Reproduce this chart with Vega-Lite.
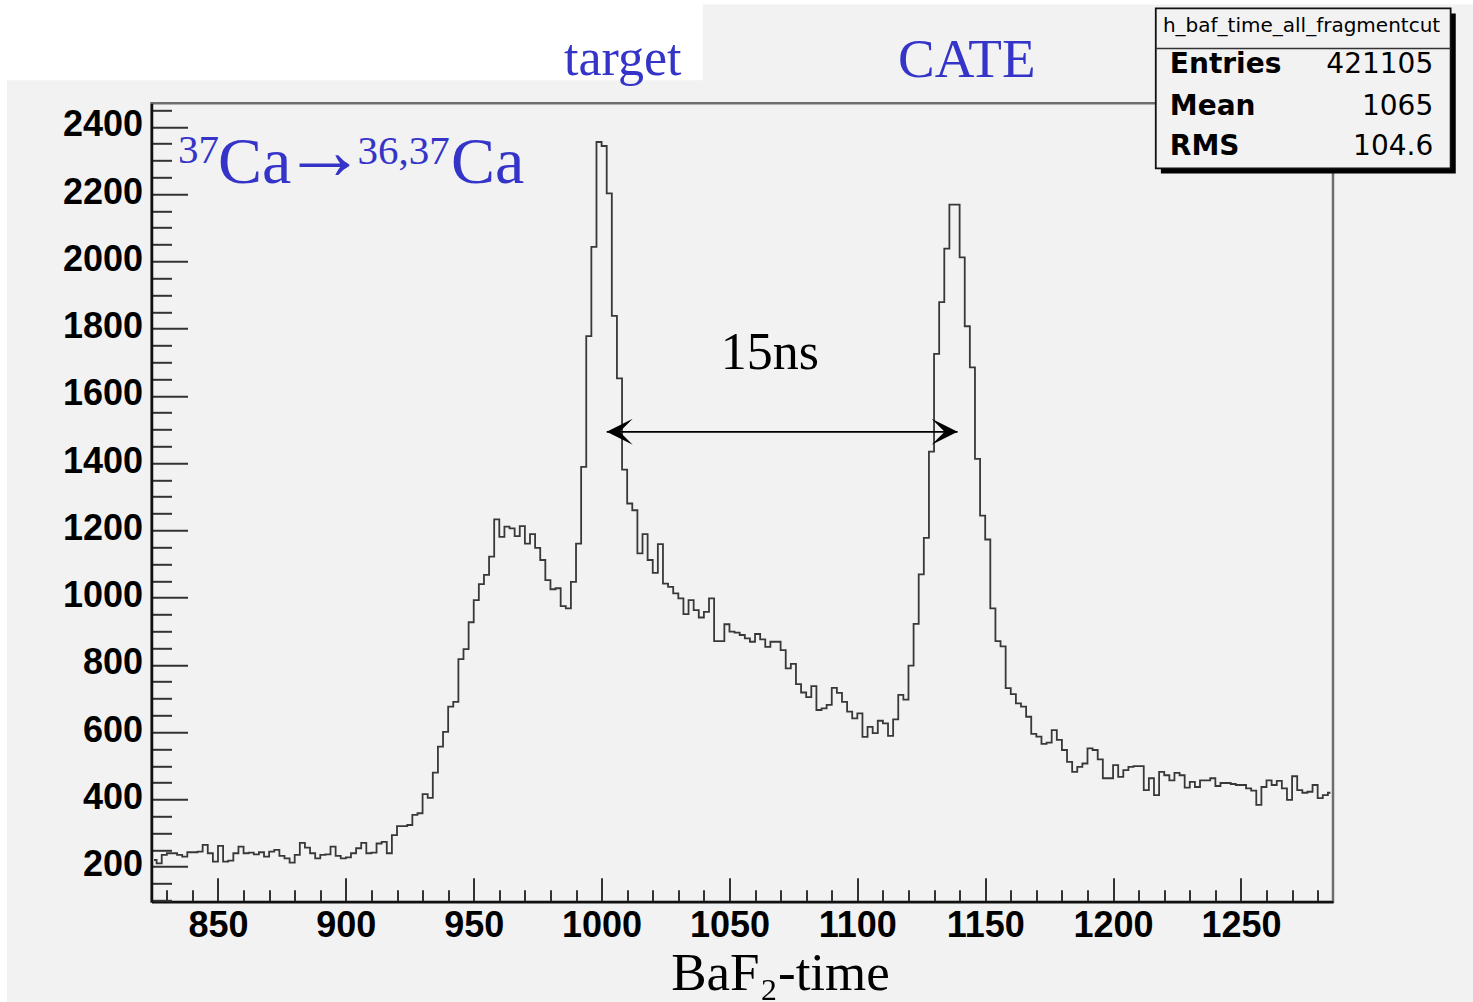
{
  "$schema": "https://vega.github.io/schema/vega-lite/v6.json",
  "width": 1181.5,
  "height": 798.4,
  "autosize": {"type": "none"},
  "padding": {"left": 151.5, "top": 103.3, "right": 140, "bottom": 100.3},
  "background": "#f2f2f2",
  "config": {"view": {"stroke": "#6e6e6e", "strokeWidth": 2.5, "fill": "#f2f2f2"}},
  "datasets": {
    "hist": [
      {"t":825,"n":220},{"t":827,"n":210},{"t":829,"n":235},{"t":831,"n":240},{"t":833,"n":240},{"t":835,"n":235},{"t":837,"n":230},{"t":839,"n":243},{"t":841,"n":243},{"t":843,"n":245},
      {"t":845,"n":265},{"t":847,"n":240},{"t":849,"n":215},{"t":851,"n":262},{"t":853,"n":215},{"t":855,"n":218},{"t":857,"n":240},{"t":859,"n":260},{"t":861,"n":240},{"t":863,"n":242},
      {"t":865,"n":237},{"t":867,"n":243},{"t":869,"n":230},{"t":871,"n":245},{"t":873,"n":250},{"t":875,"n":232},{"t":877,"n":225},{"t":879,"n":212},{"t":881,"n":235},{"t":883,"n":271},
      {"t":885,"n":257},{"t":887,"n":240},{"t":889,"n":225},{"t":891,"n":235},{"t":893,"n":237},{"t":895,"n":260},{"t":897,"n":232},{"t":899,"n":225},{"t":901,"n":228},{"t":903,"n":240},
      {"t":905,"n":255},{"t":907,"n":271},{"t":909,"n":240},{"t":911,"n":242},{"t":913,"n":269},{"t":915,"n":274},{"t":917,"n":240},{"t":919,"n":294},{"t":921,"n":321},{"t":923,"n":321},
      {"t":925,"n":324},{"t":927,"n":354},{"t":929,"n":359},{"t":931,"n":416},{"t":933,"n":405},{"t":935,"n":480},{"t":937,"n":557},{"t":939,"n":601},{"t":941,"n":676},{"t":943,"n":690},
      {"t":945,"n":817},{"t":947,"n":847},{"t":949,"n":927},{"t":951,"n":993},{"t":953,"n":1040},{"t":955,"n":1068},{"t":957,"n":1122},{"t":959,"n":1233},{"t":961,"n":1181},{"t":963,"n":1211},
      {"t":965,"n":1206},{"t":967,"n":1183},{"t":969,"n":1213},{"t":971,"n":1161},{"t":973,"n":1189},{"t":975,"n":1148},{"t":977,"n":1112},{"t":979,"n":1052},{"t":981,"n":1025},{"t":983,"n":1028},
      {"t":985,"n":975},{"t":987,"n":968},{"t":989,"n":1047},{"t":991,"n":1161},{"t":993,"n":1389},{"t":995,"n":1778},{"t":997,"n":2043},{"t":999,"n":2355},{"t":1001,"n":2343},{"t":1003,"n":2202},
      {"t":1005,"n":1838},{"t":1007,"n":1652},{"t":1009,"n":1381},{"t":1011,"n":1280},{"t":1013,"n":1260},{"t":1015,"n":1132},{"t":1017,"n":1189},{"t":1019,"n":1112},{"t":1021,"n":1074},{"t":1023,"n":1159},
      {"t":1025,"n":1042},{"t":1027,"n":1032},{"t":1029,"n":1013},{"t":1031,"n":998},{"t":1033,"n":951},{"t":1035,"n":993},{"t":1037,"n":963},{"t":1039,"n":941},{"t":1041,"n":958},{"t":1043,"n":998},
      {"t":1045,"n":871},{"t":1047,"n":871},{"t":1049,"n":921},{"t":1051,"n":899},{"t":1053,"n":896},{"t":1055,"n":889},{"t":1057,"n":879},{"t":1059,"n":869},{"t":1061,"n":892},{"t":1063,"n":876},
      {"t":1065,"n":854},{"t":1067,"n":869},{"t":1069,"n":869},{"t":1071,"n":844},{"t":1073,"n":790},{"t":1075,"n":803},{"t":1077,"n":743},{"t":1079,"n":718},{"t":1081,"n":704},{"t":1083,"n":737},
      {"t":1085,"n":666},{"t":1087,"n":671},{"t":1089,"n":681},{"t":1091,"n":732},{"t":1093,"n":717},{"t":1095,"n":690},{"t":1097,"n":661},{"t":1099,"n":641},{"t":1101,"n":656},{"t":1103,"n":586},
      {"t":1105,"n":616},{"t":1107,"n":597},{"t":1109,"n":634},{"t":1111,"n":626},{"t":1113,"n":589},{"t":1115,"n":638},{"t":1117,"n":711},{"t":1119,"n":697},{"t":1121,"n":798},{"t":1123,"n":922},
      {"t":1125,"n":1069},{"t":1127,"n":1178},{"t":1129,"n":1434},{"t":1131,"n":1725},{"t":1133,"n":1879},{"t":1135,"n":2038},{"t":1137,"n":2169},{"t":1139,"n":2169},{"t":1141,"n":2012},{"t":1143,"n":1807},
      {"t":1145,"n":1685},{"t":1147,"n":1413},{"t":1149,"n":1244},{"t":1151,"n":1173},{"t":1153,"n":968},{"t":1155,"n":871},{"t":1157,"n":855},{"t":1159,"n":731},{"t":1161,"n":713},{"t":1163,"n":686},
      {"t":1165,"n":676},{"t":1167,"n":646},{"t":1169,"n":595},{"t":1171,"n":587},{"t":1173,"n":565},{"t":1175,"n":569},{"t":1177,"n":606},{"t":1179,"n":577},{"t":1181,"n":547},{"t":1183,"n":512},
      {"t":1185,"n":482},{"t":1187,"n":497},{"t":1189,"n":507},{"t":1191,"n":552},{"t":1193,"n":547},{"t":1195,"n":519},{"t":1197,"n":463},{"t":1199,"n":463},{"t":1201,"n":502},{"t":1203,"n":467},
      {"t":1205,"n":487},{"t":1207,"n":497},{"t":1209,"n":499},{"t":1211,"n":499},{"t":1213,"n":428},{"t":1215,"n":463},{"t":1217,"n":413},{"t":1219,"n":482},{"t":1221,"n":472},{"t":1223,"n":457},
      {"t":1225,"n":479},{"t":1227,"n":472},{"t":1229,"n":435},{"t":1231,"n":452},{"t":1233,"n":437},{"t":1235,"n":457},{"t":1237,"n":457},{"t":1239,"n":463},{"t":1241,"n":440},{"t":1243,"n":449},
      {"t":1245,"n":449},{"t":1247,"n":446},{"t":1249,"n":443},{"t":1251,"n":443},{"t":1253,"n":433},{"t":1255,"n":426},{"t":1257,"n":384},{"t":1259,"n":437},{"t":1261,"n":457},{"t":1263,"n":443},
      {"t":1265,"n":455},{"t":1267,"n":433},{"t":1269,"n":399},{"t":1271,"n":469},{"t":1273,"n":428},{"t":1275,"n":420},{"t":1277,"n":423},{"t":1279,"n":443},{"t":1281,"n":404},{"t":1283,"n":413},
      {"t":1285,"n":420}
    ],
    "white": [
      {"x1": 760, "x2": 1039.6, "y1": 2538.8, "y2": 2800},
      {"x1": 760, "x2": 767.5, "y1": -250, "y2": 2800},
      {"x1": 1039.6, "x2": 1345, "y1": 2764, "y2": 2800}
    ],
    "arrow": [{"x1": 1002, "x2": 1139.2, "y": 1493}],
    "tipL": [{"x": 1002, "y": 1493}],
    "tipR": [{"x": 1139.2, "y": 1493}],
    "ns": [{"x": 1065.8, "y": 1681, "label": "15ns"}],
    "big": [{"x": 850, "y": 2233.5, "label": "Ca"}, {"x": 941.1, "y": 2233.5, "label": "Ca"}],
    "rarrow": [{"x": 891.6, "y": 2246.3, "label": "→"}],
    "sup": [{"x": 834.4, "y": 2292, "label": "37"}, {"x": 904.6, "y": 2289, "label": "36,37"}],
    "blue": [{"x": 985.3, "y": 2553.7, "label": "target"}],
    "blue2": [{"x": 1115.9, "y": 2547.8, "label": "CATE"}],
    "shadow": [{"x1": 1218.7, "x2": 1334.0, "y1": 2261.5, "y2": 2737}],
    "box": [{"x1": 1216.7, "x2": 1332.0, "y1": 2276.3, "y2": 2752}],
    "sep": [{"x1": 1216.7, "x2": 1332.0, "y": 2633}],
    "boxtitle": [{"x": 1273.7, "y": 2682.4, "label": "h_baf_time_all_fragmentcut"}],
    "statnames": [{"x": 1222.2, "y": 2558.8, "label": "Entries"}, {"x": 1222.2, "y": 2434.8, "label": "Mean"}, {"x": 1222.2, "y": 2315.9, "label": "RMS"}],
    "statvals": [{"x": 1325.2, "y": 2558.8, "label": "421105"}, {"x": 1325.2, "y": 2434.8, "label": "1065"}, {"x": 1325.2, "y": 2315.9, "label": "104.6"}]
  },
  "layer": [
    {
      "data": {"name": "white"},
      "mark": {"type": "rect", "fill": "#ffffff", "strokeWidth": 0},
      "encoding": {
        "x": {"field": "x1", "type": "quantitative", "scale": {"domain": [824, 1286], "nice": false, "zero": false}},
        "x2": {"field": "x2"},
        "y": {"field": "y1", "type": "quantitative", "scale": {"domain": [96, 2470], "nice": false, "zero": false}},
        "y2": {"field": "y2"}
      }
    },
    {
      "data": {"name": "hist"},
      "mark": {"type": "line", "interpolate": "step", "color": "#383838", "strokeWidth": 1.8},
      "encoding": {
        "x": {
          "field": "t", "type": "quantitative",
          "scale": {"domain": [824, 1286], "nice": false, "zero": false},
          "axis": {
            "title": "BaF₂-time",
            "values": [830,840,850,860,870,880,890,900,910,920,930,940,950,960,970,980,990,1000,1010,1020,1030,1040,1050,1060,1070,1080,1090,1100,1110,1120,1130,1140,1150,1160,1170,1180,1190,1200,1210,1220,1230,1240,1250,1260,1270,1280],
            "tickCount": 200,
            "format": "d",
            "labelExpr": "datum.value % 50 === 0 ? datum.label : ''",
            "tickSize": {"condition": {"test": "datum.value % 50 === 0", "value": -24}, "value": -12},
            "labelPadding": 31,
            "tickColor": "#333333", "tickWidth": 2,
            "domainColor": "#111111", "domainWidth": 2.5,
            "grid": false,
            "labelFont": "Liberation Sans", "labelFontWeight": "bold", "labelFontSize": 36, "labelColor": "#000000",
            "labelOverlap": false, "labelFlush": false,
            "titleFont": "Liberation Serif", "titleFontSize": 53, "titleFontWeight": "normal", "titleColor": "#000000",
            "titleX": 628.5, "titleY": 88, "titleBaseline": "alphabetic", "titleAlign": "center"
          }
        },
        "y": {
          "field": "n", "type": "quantitative",
          "scale": {"domain": [96, 2470], "nice": false, "zero": false},
          "axis": {
            "title": "",
            "values": [100,150,200,250,300,350,400,450,500,550,600,650,700,750,800,850,900,950,1000,1050,1100,1150,1200,1250,1300,1350,1400,1450,1500,1550,1600,1650,1700,1750,1800,1850,1900,1950,2000,2050,2100,2150,2200,2250,2300,2350,2400,2450],
            "tickCount": 200,
            "format": "d",
            "labelExpr": "datum.value % 200 === 0 ? datum.label : ''",
            "tickSize": {"condition": {"test": "datum.value % 200 === 0", "value": -36}, "value": -20},
            "labelPadding": 45,
            "labelOffset": -2,
            "tickColor": "#333333", "tickWidth": 2,
            "domainColor": "#111111", "domainWidth": 2.5,
            "grid": false,
            "labelFont": "Liberation Sans", "labelFontWeight": "bold", "labelFontSize": 36, "labelColor": "#000000",
            "labelOverlap": false, "labelFlush": false
          }
        }
      }
    },
    {
      "data": {"name": "arrow"},
      "mark": {"type": "rule", "color": "#000000", "strokeWidth": 1.6},
      "encoding": {
        "x": {"field": "x1", "type": "quantitative", "scale": {"domain": [824, 1286], "nice": false, "zero": false}},
        "x2": {"field": "x2"},
        "y": {"field": "y", "type": "quantitative", "scale": {"domain": [96, 2470], "nice": false, "zero": false}}
      }
    },
    {
      "data": {"name": "tipL"},
      "mark": {"type": "point", "shape": "M0,0 L2,-1 L1,0 L2,1 Z", "size": 676, "filled": true, "color": "#000000", "opacity": 1, "strokeWidth": 0},
      "encoding": {
        "x": {"field": "x", "type": "quantitative", "scale": {"domain": [824, 1286], "nice": false, "zero": false}},
        "y": {"field": "y", "type": "quantitative", "scale": {"domain": [96, 2470], "nice": false, "zero": false}}
      }
    },
    {
      "data": {"name": "tipR"},
      "mark": {"type": "point", "shape": "M0,0 L-2,-1 L-1,0 L-2,1 Z", "size": 676, "filled": true, "color": "#000000", "opacity": 1, "strokeWidth": 0},
      "encoding": {
        "x": {"field": "x", "type": "quantitative", "scale": {"domain": [824, 1286], "nice": false, "zero": false}},
        "y": {"field": "y", "type": "quantitative", "scale": {"domain": [96, 2470], "nice": false, "zero": false}}
      }
    },
    {
      "data": {"name": "ns"},
      "mark": {"type": "text", "font": "Liberation Serif", "fontSize": 52, "color": "#000000", "align": "center", "baseline": "alphabetic"},
      "encoding": {
        "x": {"field": "x", "type": "quantitative", "scale": {"domain": [824, 1286], "nice": false, "zero": false}},
        "y": {"field": "y", "type": "quantitative", "scale": {"domain": [96, 2470], "nice": false, "zero": false}},
        "text": {"field": "label"}
      }
    },
    {
      "data": {"name": "big"},
      "mark": {"type": "text", "font": "Liberation Serif", "fontSize": 66, "color": "#3434c8", "align": "left", "baseline": "alphabetic"},
      "encoding": {
        "x": {"field": "x", "type": "quantitative", "scale": {"domain": [824, 1286], "nice": false, "zero": false}},
        "y": {"field": "y", "type": "quantitative", "scale": {"domain": [96, 2470], "nice": false, "zero": false}},
        "text": {"field": "label"}
      }
    },
    {
      "data": {"name": "rarrow"},
      "mark": {"type": "text", "font": "Liberation Serif", "fontSize": 84, "color": "#3434c8", "align": "center", "baseline": "alphabetic"},
      "encoding": {
        "x": {"field": "x", "type": "quantitative", "scale": {"domain": [824, 1286], "nice": false, "zero": false}},
        "y": {"field": "y", "type": "quantitative", "scale": {"domain": [96, 2470], "nice": false, "zero": false}},
        "text": {"field": "label"}
      }
    },
    {
      "data": {"name": "sup"},
      "mark": {"type": "text", "font": "Liberation Serif", "fontSize": 41, "color": "#3434c8", "align": "left", "baseline": "alphabetic"},
      "encoding": {
        "x": {"field": "x", "type": "quantitative", "scale": {"domain": [824, 1286], "nice": false, "zero": false}},
        "y": {"field": "y", "type": "quantitative", "scale": {"domain": [96, 2470], "nice": false, "zero": false}},
        "text": {"field": "label"}
      }
    },
    {
      "data": {"name": "blue"},
      "mark": {"type": "text", "font": "Liberation Serif", "fontSize": 52, "color": "#3434c8", "align": "left", "baseline": "alphabetic"},
      "encoding": {
        "x": {"field": "x", "type": "quantitative", "scale": {"domain": [824, 1286], "nice": false, "zero": false}},
        "y": {"field": "y", "type": "quantitative", "scale": {"domain": [96, 2470], "nice": false, "zero": false}},
        "text": {"field": "label"}
      }
    },
    {
      "data": {"name": "blue2"},
      "mark": {"type": "text", "font": "Liberation Serif", "fontSize": 55, "color": "#3434c8", "align": "left", "baseline": "alphabetic"},
      "encoding": {
        "x": {"field": "x", "type": "quantitative", "scale": {"domain": [824, 1286], "nice": false, "zero": false}},
        "y": {"field": "y", "type": "quantitative", "scale": {"domain": [96, 2470], "nice": false, "zero": false}},
        "text": {"field": "label"}
      }
    },
    {
      "data": {"name": "shadow"},
      "mark": {"type": "rect", "fill": "#000000", "strokeWidth": 0},
      "encoding": {
        "x": {"field": "x1", "type": "quantitative", "scale": {"domain": [824, 1286], "nice": false, "zero": false}},
        "x2": {"field": "x2"},
        "y": {"field": "y1", "type": "quantitative", "scale": {"domain": [96, 2470], "nice": false, "zero": false}},
        "y2": {"field": "y2"}
      }
    },
    {
      "data": {"name": "box"},
      "mark": {"type": "rect", "fill": "#f2f2f2", "stroke": "#111111", "strokeWidth": 1.8},
      "encoding": {
        "x": {"field": "x1", "type": "quantitative", "scale": {"domain": [824, 1286], "nice": false, "zero": false}},
        "x2": {"field": "x2"},
        "y": {"field": "y1", "type": "quantitative", "scale": {"domain": [96, 2470], "nice": false, "zero": false}},
        "y2": {"field": "y2"}
      }
    },
    {
      "data": {"name": "sep"},
      "mark": {"type": "rule", "color": "#333333", "strokeWidth": 1.5},
      "encoding": {
        "x": {"field": "x1", "type": "quantitative", "scale": {"domain": [824, 1286], "nice": false, "zero": false}},
        "x2": {"field": "x2"},
        "y": {"field": "y", "type": "quantitative", "scale": {"domain": [96, 2470], "nice": false, "zero": false}}
      }
    },
    {
      "data": {"name": "boxtitle"},
      "mark": {"type": "text", "font": "DejaVu Sans", "fontSize": 20, "color": "#000000", "align": "center", "baseline": "alphabetic"},
      "encoding": {
        "x": {"field": "x", "type": "quantitative", "scale": {"domain": [824, 1286], "nice": false, "zero": false}},
        "y": {"field": "y", "type": "quantitative", "scale": {"domain": [96, 2470], "nice": false, "zero": false}},
        "text": {"field": "label"}
      }
    },
    {
      "data": {"name": "statnames"},
      "mark": {"type": "text", "font": "DejaVu Sans", "fontSize": 28, "fontWeight": "bold", "color": "#000000", "align": "left", "baseline": "alphabetic"},
      "encoding": {
        "x": {"field": "x", "type": "quantitative", "scale": {"domain": [824, 1286], "nice": false, "zero": false}},
        "y": {"field": "y", "type": "quantitative", "scale": {"domain": [96, 2470], "nice": false, "zero": false}},
        "text": {"field": "label"}
      }
    },
    {
      "data": {"name": "statvals"},
      "mark": {"type": "text", "font": "DejaVu Sans", "fontSize": 28, "color": "#000000", "align": "right", "baseline": "alphabetic"},
      "encoding": {
        "x": {"field": "x", "type": "quantitative", "scale": {"domain": [824, 1286], "nice": false, "zero": false}},
        "y": {"field": "y", "type": "quantitative", "scale": {"domain": [96, 2470], "nice": false, "zero": false}},
        "text": {"field": "label"}
      }
    }
  ]
}
